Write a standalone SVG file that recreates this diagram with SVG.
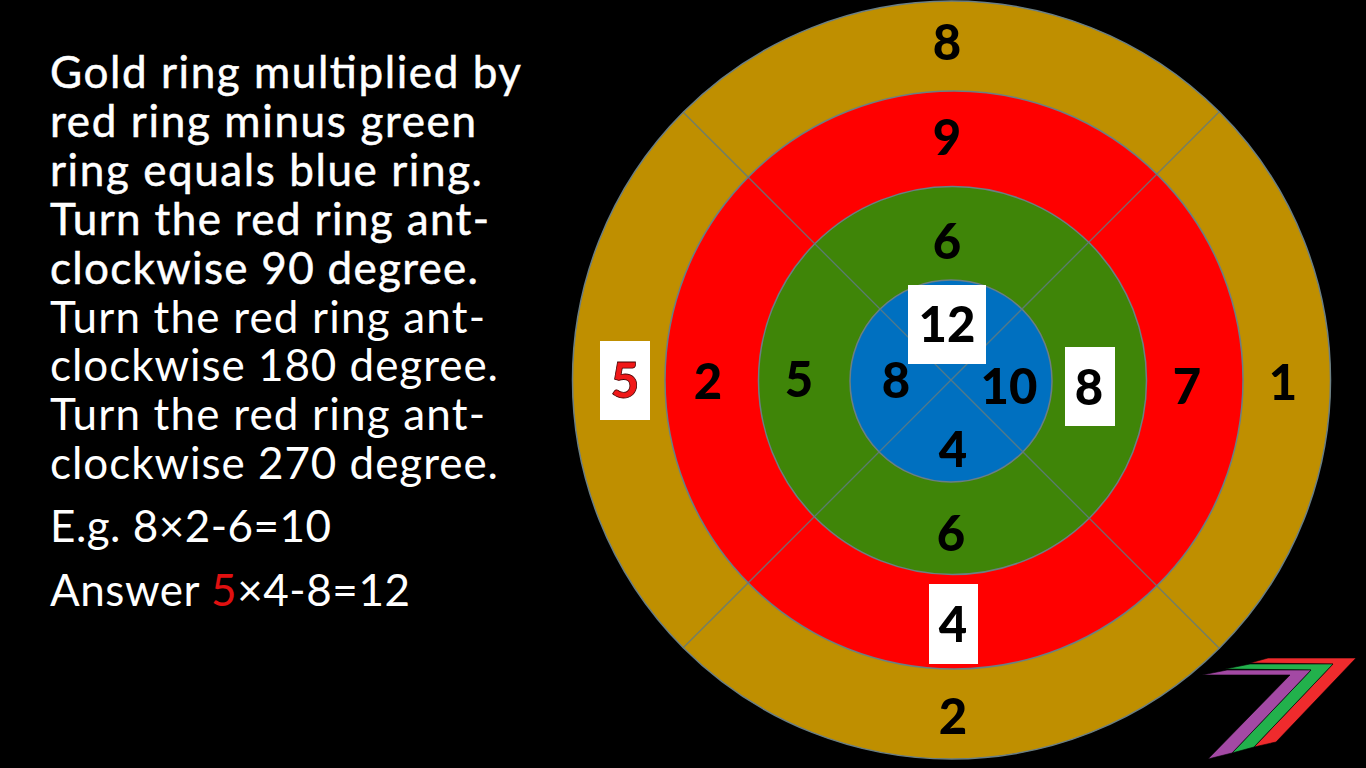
<svg xmlns="http://www.w3.org/2000/svg" width="1366" height="768" viewBox="0 0 1366 768">
<style>
.t{font-family:"Lato","Liberation Sans",sans-serif;font-size:44px;fill:#fff}
.b{stroke:#fff;stroke-width:.5px}
.n{font-family:"Lato","Liberation Sans",sans-serif;font-size:49px;font-weight:900;fill:#000;text-anchor:middle}
.r{stroke:#6b7f84;stroke-width:1.5}
.s{stroke:#5f7a80;stroke-width:1.3;fill:none;opacity:.85}
.w{fill:#fff}
</style>
<rect width="1366" height="768" fill="#000"/>
<g id="instructions">
<text class="t b" x="50" y="88" textLength="471">Gold ring multiplied by</text>
<text class="t b" x="50" y="137" textLength="426">red ring minus green</text>
<text class="t b" x="50" y="186" textLength="432">ring equals blue ring.</text>
<text class="t b" x="50" y="235" textLength="439">Turn the red ring ant-</text>
<text class="t b" x="50" y="284" textLength="428">clockwise 90 degree.</text>
<text class="t" x="50" y="333" textLength="435">Turn the red ring ant-</text>
<text class="t" x="50" y="381" textLength="448">clockwise 180 degree.</text>
<text class="t" x="50" y="430" textLength="435">Turn the red ring ant-</text>
<text class="t" x="50" y="479" textLength="448">clockwise 270 degree.</text>
<text class="t" x="50" y="542" textLength="281">E.g. 8×2-6=10</text>
<text class="t" x="50" y="606" textLength="360">Answer <tspan fill="#e01010">5</tspan>×4-8=12</text>
</g>
<g id="ring-gold"><circle class="r" cx="951.5" cy="380" r="379" fill="#bf8f00"/></g>
<g id="ring-red"><circle class="r" cx="954" cy="380" r="289" fill="#ff0000"/></g>
<g id="ring-green"><circle class="r" cx="952.5" cy="380.5" r="194" fill="#3f8508"/></g>
<g id="ring-blue"><circle class="r" cx="951" cy="381" r="101" fill="#0070c0"/></g>
<g id="connectors">
<line class="s" x1="683" y1="112" x2="1219" y2="648"/>
<line class="s" x1="1219" y1="112" x2="683" y2="648"/>
</g>
<g id="answers">
<rect class="w" x="908" y="285" width="78" height="79"/>
<rect class="w" x="1065" y="347" width="50" height="79"/>
<rect class="w" x="600" y="341" width="50" height="79"/>
<rect class="w" x="929" y="584" width="49" height="80"/>
</g>
<g id="numbers">
<text class="n" x="947" y="60">8</text>
<text class="n" x="947" y="155">9</text>
<text class="n" x="947" y="259">6</text>
<text class="n" x="947" y="342">12</text>
<text class="n" x="896" y="398">8</text>
<text class="n" x="1009" y="404">10</text>
<text class="n" x="1089" y="405">8</text>
<text class="n" x="953" y="467">4</text>
<text class="n" x="951" y="551">6</text>
<text class="n" x="953" y="642">4</text>
<text class="n" x="953" y="734">2</text>
<text class="n" x="799" y="397">5</text>
<text class="n" x="708" y="399">2</text>
<text class="n" x="625" y="398" style="fill:#f01818;stroke:#400;stroke-width:.8px">5</text>
<text class="n" x="1187" y="404">7</text>
<text class="n" x="1283" y="400">1</text>
</g>
<g id="logo" stroke="#000" stroke-width=".6">
<polygon fill="#ef2b2d" points="1250,663 1268,658 1356,658 1276,742 1254,747 1333,664"/>
<polygon fill="#22b14c" points="1225,669 1250,664 1333,664 1254,747 1232,753 1311,670"/>
<polygon fill="#a349a4" points="1202,675 1227,670 1311,670 1232,753 1208,759 1290,675"/>
</g>
</svg>
